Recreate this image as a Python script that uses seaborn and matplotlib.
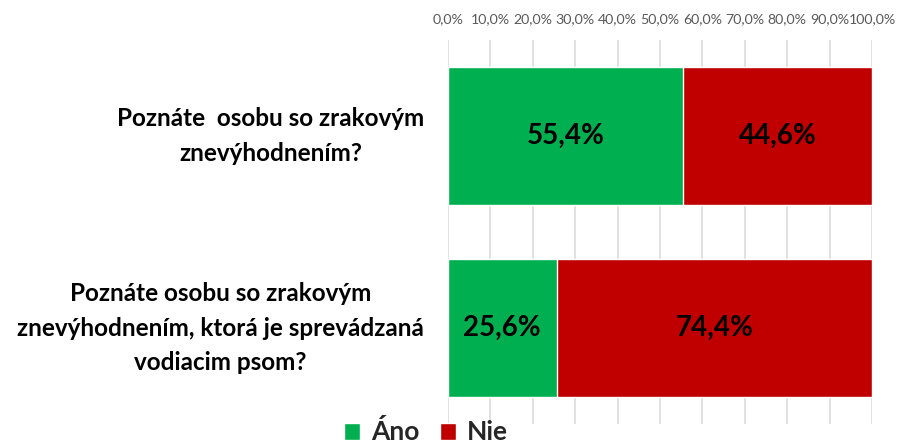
import matplotlib
matplotlib.use("Agg")
import matplotlib.pyplot as plt
import matplotlib.transforms as mtransforms
import seaborn as sns
import pandas as pd
import numpy as np
from matplotlib.patches import Patch

categories = ["Poznáte  osobu so zrakovým\nznevýhodnením?",
              "Poznáte osobu so zrakovým\nznevýhodnením, ktorá je sprevádzaná\nvodiacim psom?"]
ano = [55.4, 25.6]
nie = [44.6, 74.4]
series_names = ["Áno", "Nie"]
ticks = list(range(0, 101, 10))
tick_labels = [f"{t},0%" for t in ticks]

green = "#00B050"
red = "#C00000"

sns.set_theme(style="white")
plt.rcParams['font.family'] = ['Lato', 'DejaVu Sans']

fig = plt.figure(figsize=(8.98, 4.46), dpi=100)
W, H = 898, 446
ax = fig.add_axes([448 / W, (H - 424) / H, (872 - 448) / W, (424 - 40) / H])

df = pd.DataFrame({"cat": categories, "ano": ano, "nie": nie})
df["total"] = df["ano"] + df["nie"]

sns.barplot(data=df, y="cat", x="total", color=red, orient="h", width=0.72,
            saturation=1, ax=ax, zorder=2)
sns.barplot(data=df, y="cat", x="ano", color=green, orient="h", width=0.72,
            saturation=1, ax=ax, zorder=3)

ax.set_xlim(0, 100)
ax.set_ylim(1.5, -0.5)
ax.set_xticks(ticks)
ax.set_xticklabels(tick_labels, fontsize=10.2, color="#595959")
ax.xaxis.tick_top()
ax.tick_params(axis="x", length=0, pad=11)
ax.grid(axis="x", color="#D9D9D9", linewidth=1.1, zorder=0)
ax.set_axisbelow(True)
for s in ax.spines.values():
    s.set_visible(False)
ax.set_xlabel("")
ax.set_ylabel("")

# category labels drawn as text so the line spacing is honoured
ax.set_yticks(range(len(categories)))
ax.set_yticklabels([])
ax.tick_params(axis="y", length=0)
trans = mtransforms.blended_transform_factory(ax.transAxes, ax.transData)
offset = mtransforms.ScaledTranslation(-24 / 100, 0, fig.dpi_scale_trans)
for i, cat in enumerate(categories):
    ax.text(0, i, cat, transform=trans + offset, ha="right", va="center",
            multialignment="center", linespacing=1.6, fontsize=17.5,
            fontweight="bold", color="black")

for i, (a, n) in enumerate(zip(ano, nie)):
    ax.text(a / 2, i, f"{a:.1f}%".replace(".", ","), ha="center", va="center",
            fontsize=20, fontweight="bold", color="black", zorder=5)
    ax.text(a + n / 2, i, f"{n:.1f}%".replace(".", ","), ha="center", va="center",
            fontsize=20, fontweight="bold", color="black", zorder=5)

handles = [Patch(facecolor=green, label=series_names[0]),
           Patch(facecolor=red, label=series_names[1])]
fig.legend(handles=handles, loc="center", bbox_to_anchor=(426 / W, 1 - 432 / H),
           ncol=2, frameon=False, prop={"size": 19, "weight": "bold"},
           handlelength=0.6, handleheight=0.6, handletextpad=0.4, columnspacing=0.8,
           borderpad=0)

fig.savefig("out.png", dpi=100)
